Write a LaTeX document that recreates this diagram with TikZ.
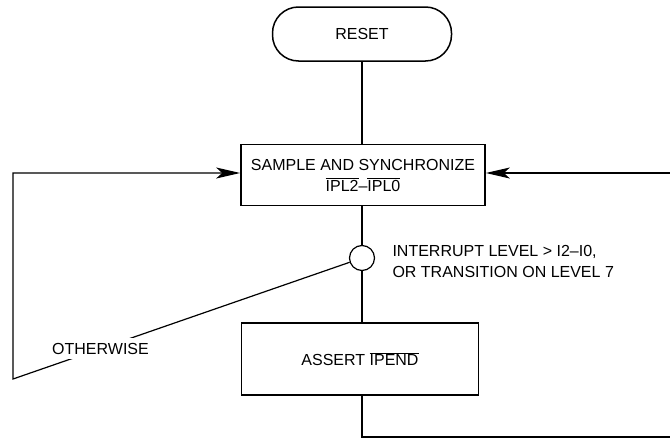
\documentclass[tikz,border=0pt]{standalone}
\usepackage{fontspec}
\setmainfont{Liberation Sans}
\usetikzlibrary{arrows.meta, positioning, calc}
\newcommand\negsig[1]{$\overline{\mbox{#1}}$}
\tikzset{
  term/.style={draw, line width=1.5pt, rounded corners=26pt, minimum width=179pt, minimum height=54pt},
  sq/.style={draw, line width=1.7pt, align=center, minimum height=0.8cm},
  dot/.style={draw, circle, line width=1.2pt, minimum size=25pt, inner sep=0pt},
  arr/.style={-{Stealth[length=24pt, width=11pt, inset=6pt]}, line width=1.2pt},
  lin/.style={line width=1.2pt},
}
\begin{document}
\begin{tikzpicture}[x=1pt, y=-1pt, font=\fontsize{16}{21}\selectfont]
    \useasboundingbox (0,0) rectangle (670,442);
    \node[term] (reset) at (362,34) {RESET};
    \node[sq, minimum width=244pt, minimum height=61pt] (sync) at (363,175)
      {SAMPLE AND SYNCHRONIZE\\\negsig{IPL2}--\negsig{IPL0}};
    \node[dot] (dec) at (362,258) {};
    \node[anchor=west, align=left] (cond) at (389,261)
      {INTERRUPT LEVEL > I2--I0,\\OR TRANSITION ON LEVEL 7};
    \node[sq, minimum width=237pt, minimum height=72pt] (assert) at (360,359) {ASSERT \negsig{IPEND}};
    \coordinate (lc) at (13,379);
    \coordinate (rc) at (671,437);
    \draw[lin] (reset) -- (reset |- sync.north);
    \draw[lin] (dec |- sync.south) -- (dec);
    \draw[lin] (dec) -- (dec |- assert.north);
    \draw[arr] (dec) -- node[pos=0.74, fill=white, inner sep=5pt] {OTHERWISE} (lc)
      |- ([yshift=2pt]sync.west);
    \draw[arr] (assert.south -| dec) |- (rc) |- ([yshift=2pt]sync.east);
  \end{tikzpicture}
\end{document}
